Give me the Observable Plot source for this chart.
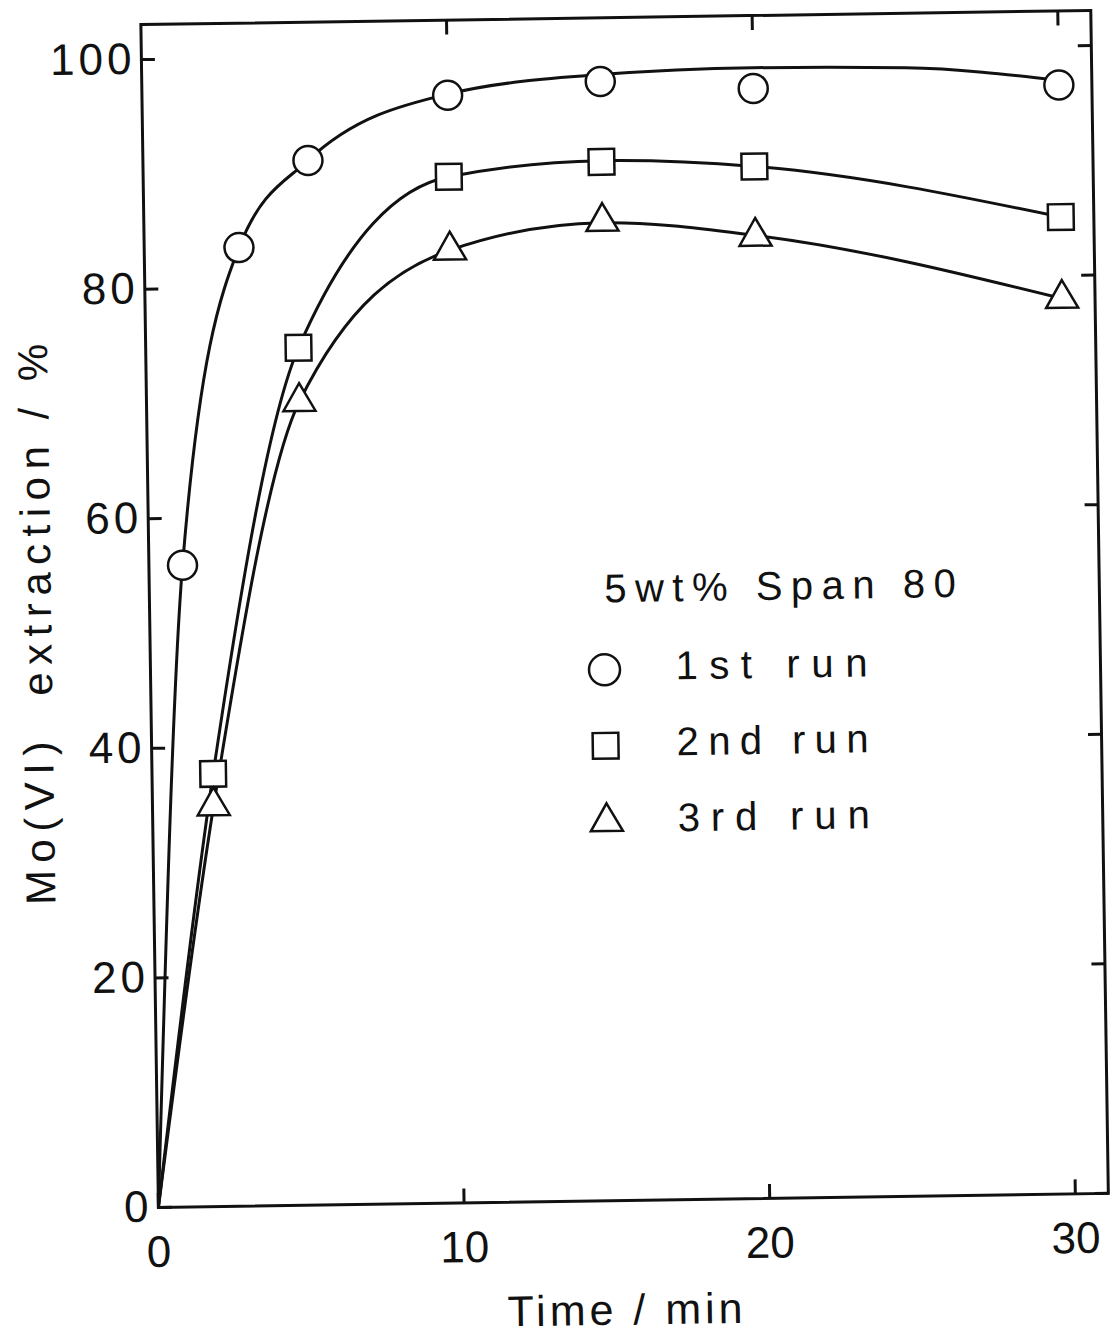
<!DOCTYPE html>
<html>
<head>
<meta charset="utf-8">
<script src="https://cdn.jsdelivr.net/npm/d3@7"></script>
<script src="https://cdn.jsdelivr.net/npm/@observablehq/plot@0.6"></script>
<style>
  body { margin: 0; background: #fff; }
  #chart svg { display: block; transform: rotate(-0.85deg); transform-origin: 50% 50%; }
  #chart g[aria-label="y-axis tick label"] text { letter-spacing: 4px; }
</style>
</head>
<body>
<div id="chart"></div>
<script>
// Mo(VI) extraction (%) versus time (min), 5 wt% Span 80, three successive runs
const run1Time = [1.1, 3.1, 5.4, 10, 15, 20, 30];
const run1Ext  = [55.9, 83.5, 91.0, 96.5, 97.5, 96.7, 96.6];
const run2Time = [2, 5, 10, 15, 20, 30];
const run2Ext  = [37.7, 74.7, 89.4, 90.5, 89.9, 85.1];
const run3Time = [2, 5, 10, 15, 20, 30];
const run3Ext  = [34.9, 70.0, 83.0, 85.3, 83.8, 78.0];

// smoothed trend curves drawn through each run
const fit1Time = [0, 1.1, 3.1, 5.4, 10, 15, 20, 25, 30];
const fit1Ext  = [0, 55.9, 83.5, 91.0, 96.6, 98.1, 98.5, 98.3, 97.0];
const fit2Time = [0, 2, 5, 10, 15, 20, 30];
const fit2Ext  = [0, 37.7, 74.7, 89.4, 90.6, 89.9, 85.1];
const fit3Time = [0, 2, 5, 10, 15, 20, 30];
const fit3Ext  = [0, 34.9, 70.0, 83.0, 85.2, 83.9, 78.0];

const runNames = ["1st run", "2nd run", "3rd run"];
const runSymbols = ["circle", "square", "triangle2"];
const runRadius = [14.5, 14.5, 15.3];
const legendRadius = [15.5, 14.5, 15.3];

const xTicks = [0, 10, 20, 30];
const xTickLabels = ["0", "10", "20", "30"];
const yTicks = [0, 20, 40, 60, 80, 100];
const yTickLabels = ["0", "20", "40", "60", "80", "100"];

const legendTitle = "5wt% Span 80";
const xTitle = "Time / min";
const yTitle = "Mo(VI)\u00a0 extraction / %";

const zipRows = (ts, vs, run) => ts.map((t, i) => ({t, v: vs[i], run}));
const pointRows = [
  zipRows(run1Time, run1Ext, runNames[0]),
  zipRows(run2Time, run2Ext, runNames[1]),
  zipRows(run3Time, run3Ext, runNames[2])
];
const fitRows = [
  ...zipRows(fit1Time, fit1Ext, runNames[0]),
  ...zipRows(fit2Time, fit2Ext, runNames[1]),
  ...zipRows(fit3Time, fit3Ext, runNames[2])
];

const font = "'Liberation Sans', Arial, sans-serif";
const ink = "#111";

// legend block placed inside the plotting area, offsets from the frame's top-left corner
const legendMarks = runNames.flatMap((name, i) => [
  Plot.dot([name], {
    frameAnchor: "top-left", dx: 454, dy: 652 + i * 76,
    symbol: runSymbols[i], r: legendRadius[i],
    fill: "white", stroke: ink, strokeWidth: 2.5
  }),
  Plot.text([name], {
    frameAnchor: "top-left", dx: 525, dy: 634 + i * 76,
    text: d => d, textAnchor: "start", fontSize: 40, fill: ink
  })
]);

const chart = Plot.plot({
  width: 1114,
  height: 1340,
  marginLeft: 150,
  marginRight: 14,
  marginTop: 18,
  marginBottom: 139,
  style: {fontFamily: font, background: "white", color: ink},
  x: {domain: [0, 31.08]},
  y: {domain: [0, 103.05]},
  marks: [
    Plot.line(fitRows, {x: "t", y: "v", z: "run", curve: "monotone-x", stroke: ink, strokeWidth: 3}),
    ...pointRows.map((rows, i) =>
      Plot.dot(rows, {x: "t", y: "v", symbol: runSymbols[i], r: runRadius[i],
        fill: "white", stroke: ink, strokeWidth: 2.5})
    ),
    Plot.frame({stroke: ink, strokeWidth: 3}),
    Plot.axisY({anchor: "left", ticks: yTicks, tickSize: -14, tickPadding: 14 + 6,
      tickFormat: d => yTickLabels[yTicks.indexOf(d)], fontSize: 44, strokeWidth: 3, label: null}),
    Plot.axisY({anchor: "right", ticks: yTicks, tickSize: -14, tickFormat: () => "", strokeWidth: 3, label: null}),
    Plot.axisX({anchor: "bottom", ticks: xTicks, tickSize: -14, tickPadding: 14 + 28,
      tickFormat: d => xTickLabels[xTicks.indexOf(d)], fontSize: 44, strokeWidth: 3, label: null}),
    Plot.axisX({anchor: "top", ticks: xTicks.slice(1), tickSize: -14, tickFormat: () => "", strokeWidth: 3, label: null}),
    Plot.text([xTitle], {frameAnchor: "bottom", dx: -8, dy: 124, text: d => d,
      textAnchor: "middle", fontSize: 43, fill: ink}),
    Plot.text([yTitle], {frameAnchor: "left", dx: -112, dy: 3, rotate: -90, text: d => d,
      textAnchor: "middle", fontSize: 42, fill: ink}),
    Plot.text([legendTitle], {frameAnchor: "top-left", dx: 455, dy: 556, text: d => d,
      textAnchor: "start", fontSize: 40, fill: ink}),
    ...legendMarks
  ]
});

// wide letter spacing of the annotation texts
const spacing = new Map([
  [legendTitle, "8.5px"],
  [xTitle, "4px"],
  [yTitle, "7.5px"]
]);
d3.select(chart).selectAll("text").each(function() {
  const s = spacing.get(this.textContent);
  if (s) this.style.letterSpacing = s;
  // the run labels share one overall width, spread evenly between letters
  if (runNames.includes(this.textContent)) {
    this.setAttribute("textLength", 192);
    this.setAttribute("lengthAdjust", "spacing");
  }
});

document.getElementById("chart").appendChild(chart);
</script>
</body>
</html>
